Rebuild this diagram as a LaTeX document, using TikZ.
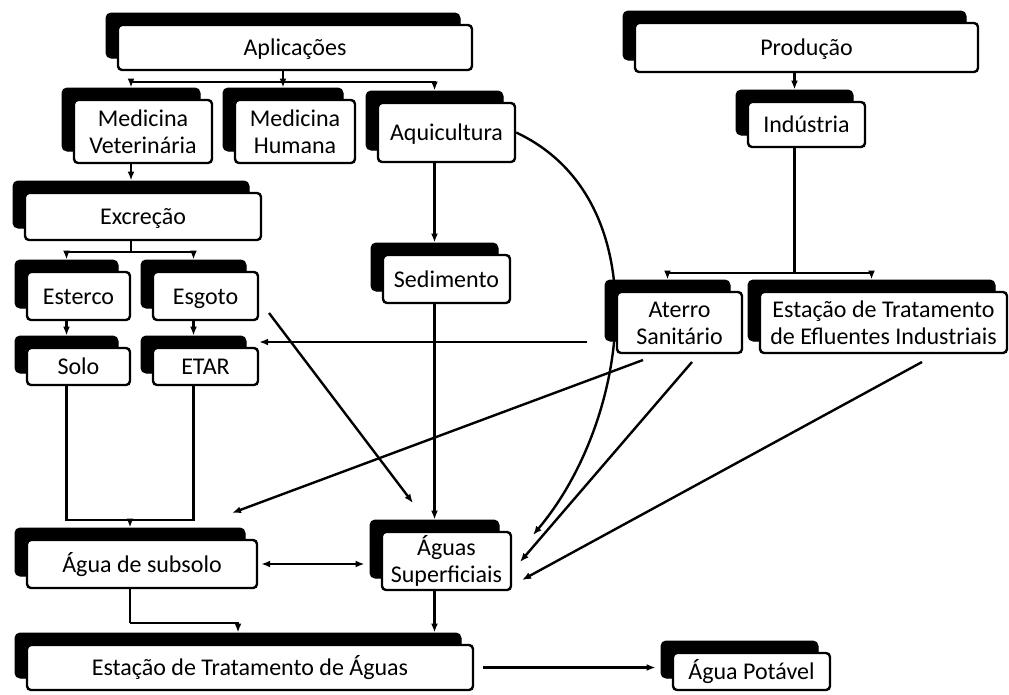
\documentclass[tikz,border=0pt]{standalone}
\usepackage{fontspec}
\setmainfont{Carlito}
\usetikzlibrary{arrows.meta,backgrounds}
\newcommand{\sr}{\rule[-5pt]{0pt}{26pt}}
\tikzset{
  shd/.style={fill=black, draw=black, line width=1pt, rounded corners=5pt, inner sep=0pt},
  bx/.style={draw=black, fill=white, line width=2.4pt, rounded corners=4pt, inner sep=0pt,
             align=center, font=\fontsize{24}{27}\selectfont},
  ln/.style={line width=2.4pt},
  arr/.style={ln, -{Latex[length=9pt,width=7pt]}},
  arrb/.style={ln, {Latex[length=9pt,width=7pt]}-{Latex[length=9pt,width=7pt]}},
}
\newcommand{\mybox}[6]{%
  \node[shd, minimum width={(#4-#2)*1pt}, minimum height={(#5-#3)*1pt}]
    (#1-s) at ({(#2+#4)/2-12},{(#3+#5)/2-12}) {};
  \node[bx, minimum width={(#4-#2)*1pt}, minimum height={(#5-#3)*1pt}]
    (#1) at ({(#2+#4)/2},{(#3+#5)/2}) {\sr #6};}
\begin{document}
\begin{tikzpicture}[x=1pt,y=-1pt]
\useasboundingbox (0,0) rectangle (1009,694);
\mybox{apl}{118}{25}{472}{70}{Aplicações}
\mybox{mvet}{74}{100}{212}{163}{Medicina\\\sr Veterinária}
\mybox{mhum}{235}{100}{355}{163}{Medicina\\\sr Humana}
\mybox{aqui}{378}{103}{515}{162}{Aquicultura}
\mybox{excr}{25}{193}{261}{240}{Excreção}
\mybox{ester}{27}{272}{130}{320}{Esterco}
\mybox{esgo}{153}{272}{258}{320}{Esgoto}
\mybox{solo}{27}{348}{130}{385}{Solo}
\mybox{etar}{153}{348}{258}{385}{ETAR}
\mybox{sed}{383}{255}{510}{303}{Sedimento}
\mybox{prod}{635}{23}{978}{72}{Produção}
\mybox{ind}{748}{102}{865}{147}{Indústria}
\mybox{ater}{617}{292}{742}{353}{Aterro\\\sr Sanitário}
\mybox{etei}{760}{292}{1007}{353}{Estação de Tratamento\\\sr de Efluentes Industriais}
\mybox{sub}{27}{540}{257}{588}{Água de subsolo}
\mybox{aguas}{382}{532}{511}{590}{Águas\\\sr Superficiais}
\mybox{eta}{27}{645}{473}{690}{Estação de Tratamento de Águas}
\mybox{pot}{673}{653}{830}{690}{Água Potável}

\coordinate (t1) at (533,535);
\coordinate (s1) at (269,313);
\coordinate (t2) at (413,503);
\coordinate (s2) at (587,342);
\coordinate (s3) at (643,360);
\coordinate (t3) at (232,513);
\coordinate (s4) at (692,362);
\coordinate (t4) at (520,562);
\coordinate (s5) at (922,362);
\coordinate (t5) at (522,580);

\begin{scope}[on background layer]
\coordinate (fa) at (apl-s.south |- 0,82);
\draw[ln] (apl-s.south) -- (fa);
\draw[arr] (fa) -| (mvet-s.north);
\draw[arr] (fa) -- (mhum-s.north);
\draw[arr] (fa) -| (aqui-s.north);
\draw[arr] (mvet-s.south) -- (excr-s.north);
\coordinate (fe) at (excr-s.south |- 0,252);
\draw[ln] (excr-s.south) -- (fe);
\draw[arr] (fe) -| (ester-s.north);
\draw[arr] (fe) -| (esgo-s.north);
\draw[arr] (ester-s.south) -- (solo-s.north);
\draw[arr] (esgo-s.south) -- (etar-s.north);
\draw[arr] (aqui-s.south) -- (sed-s.north);
\draw[arr] (sed-s.south) -- (aguas-s.north);
\draw[arr] (aqui.east) .. controls (660,200) and (630,420) .. (t1);
\draw[arr] (s1) -- (t2);
\draw[arr] (s2) -- (etar.east |- s2);
\draw[arr] (s3) -- (t3);
\draw[arr] (s4) -- (t4);
\draw[arr] (s5) -- (t5);
\draw[arr] (prod-s.south) -- (ind-s.north);
\coordinate (fi) at (ind-s.south |- 0,273);
\draw[ln] (ind-s.south) -- (fi);
\draw[arr] (fi) -| (ater-s.north);
\draw[arr] (fi) -| (etei-s.north);
\coordinate (fs) at (sub-s.north |- 0,520);
\draw[ln] (solo-s.south) |- (fs);
\draw[ln] (etar-s.south) |- (fs);
\draw[arr] (fs) -- (sub-s.north);
\draw[arrb, shorten <=3pt, shorten >=5pt] (sub.east) -- (sub.east -| aguas-s.west);
\coordinate (fq) at (sub-s.south |- 0,623);
\draw[ln] (sub-s.south) -- (fq);
\draw[arr] (fq) -| (eta-s.north);
\draw[arr] (aguas-s.south) -- (aguas-s.south |- eta-s.north);
\draw[arr, shorten <=9pt, shorten >=5pt] (eta.east) -- (eta.east -| pot-s.west);
\end{scope}
\end{tikzpicture}
\end{document}
